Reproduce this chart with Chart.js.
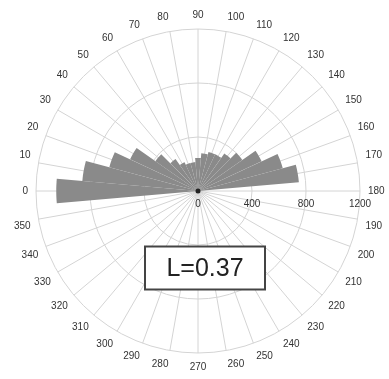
<!DOCTYPE html>
<html>
<head>
<meta charset="utf-8">
<script src="https://cdn.jsdelivr.net/npm/chart.js@4/dist/chart.umd.min.js"></script>
<style>
  html, body { margin: 0; padding: 0; background: #fff; }
  canvas { display: block; }
</style>
</head>
<body>
<canvas id="rose" width="389" height="379"></canvas>
<script>
// Bin centres (deg), 0 at left, increasing clockwise
const binCenters = [0, 10, 20, 30, 40, 50, 60, 70, 80, 90, 100, 110, 120, 130, 140, 150, 160, 170,
  180, 190, 200, 210, 220, 230, 240, 250, 260, 270, 280, 290, 300, 310, 320, 330, 340, 350];
const angleLabels = binCenters.map(String);
// counts per 10 deg bin
const counts = [1050, 860, 680, 555, 385, 290, 235, 215, 215, 245, 280, 300, 300, 340, 400, 520, 650, 750,
  0, 0, 0, 0, 0, 0, 0, 0, 0, 0, 0, 0, 0, 0, 0, 0, 0, 0];
const radialTicks = [0, 400, 800, 1200];
const statText = 'L=0.37';

const binWidth = 10;

// the 0 deg bin straddles the start of the axis, so split it in two halves
const wedgeValues = [counts[0], ...counts.slice(1), counts[0]];
const wedgeAngles = [binWidth / 2, ...counts.slice(1).map(() => binWidth), binWidth / 2];

Chart.defaults.font.family = '"Liberation Sans", Arial, sans-serif';

const overlay = {
  id: 'overlay',
  afterDatasetsDraw(chart) {
    const r = chart.scales.r;
    const ctx = chart.ctx;
    ctx.save();
    ctx.fillStyle = '#222';
    ctx.beginPath();
    ctx.arc(r.xCenter, r.yCenter, 2.5, 0, Math.PI * 2);
    ctx.fill();
    ctx.restore();
  },
  afterDraw(chart) {
    const r = chart.scales.r;
    const ctx = chart.ctx;
    ctx.save();

    // radial tick labels along the right hand axis
    ctx.font = '10px "Liberation Sans", Arial, sans-serif';
    ctx.fillStyle = '#333';
    ctx.textAlign = 'center';
    ctx.textBaseline = 'middle';
    radialTicks.forEach(v => {
      ctx.fillText(String(v), r.xCenter + r.getDistanceFromCenterForValue(v), r.yCenter + 13);
    });

    // stat box
    const bx = r.xCenter + 7, by = r.yCenter + 77;
    const bw = 120, bh = 43;
    ctx.fillStyle = '#fff';
    ctx.fillRect(bx - bw / 2, by - bh / 2, bw, bh);
    ctx.strokeStyle = '#444';
    ctx.lineWidth = 2;
    ctx.strokeRect(bx - bw / 2, by - bh / 2, bw, bh);
    ctx.fillStyle = '#222';
    ctx.font = '25px "Liberation Sans", Arial, sans-serif';
    ctx.fillText(statText, bx, by + 1);
    ctx.restore();
  }
};

new Chart(document.getElementById('rose'), {
  type: 'polarArea',
  data: {
    labels: angleLabels,
    datasets: [{
      data: wedgeValues,
      angle: (c) => wedgeAngles[c.dataIndex],
      backgroundColor: '#8a8a8a',
      borderWidth: 0,
    }],
  },
  options: {
    responsive: false,
    animation: false,
    layout: {
      padding: { top: 9, bottom: 6, left: 12, right: 1 },
    },
    plugins: {
      legend: { display: false },
      tooltip: { enabled: false },
    },
    scales: {
      r: {
        startAngle: 270,
        min: 0,
        max: 1200,
        beginAtZero: true,
        ticks: { stepSize: 400, display: false },
        grid: { circular: true, color: '#d4d4d4', lineWidth: 1 },
        angleLines: { display: true, color: '#d4d4d4', lineWidth: 1 },
        pointLabels: {
          display: true,
          padding: 8,
          color: '#333',
          font: { size: 10 },
        },
      },
    },
  },
  plugins: [overlay],
});
</script>
</body>
</html>
